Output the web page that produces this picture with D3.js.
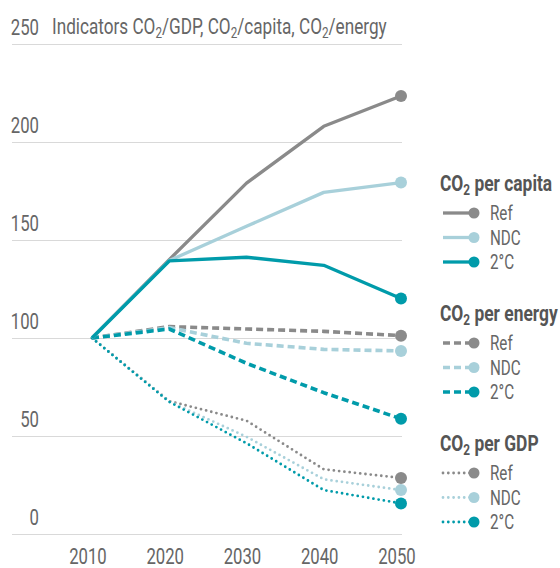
<!DOCTYPE html>
<html>
<head>
<meta charset="utf-8">
<script src="https://cdn.jsdelivr.net/npm/d3@7"></script>
<style>
  body { margin: 0; background: #fff; }
  svg text { font-family: Roboto, "Noto Sans", sans-serif; }
</style>
</head>
<body>
<div id="chart"></div>
<script>
// data
var years = [2010, 2020, 2030, 2040, 2050];
var yTicks = [0, 50, 100, 150, 200, 250];
var scenarios = ["Ref", "NDC", "2°C"];
var groups = ["per capita", "per energy", "per GDP"];

var capitaRef = [100, 140, 179, 208, 223.5];
var capitaNdc = [100, 139.5, 157, 174.3, 179.3];
var capita2c  = [100, 139.3, 141.2, 137.1, 120.2];
var energyRef = [100, 105.8, 104.6, 103.4, 101.2];
var energyNdc = [100, 105.3, 97.3, 94.2, 93.4];
var energy2c  = [100, 104.6, 87.1, 72.1, 58.8];
var gdpRef    = [100, 67.8, 57.8, 33, 28.6];
var gdpNdc    = [100, 67.6, 49.6, 27.9, 22.4];
var gdp2c     = [100, 67.4, 46.3, 22.4, 15.6];

var colors = { "Ref": "#8a8a8a", "NDC": "#a8d0da", "2°C": "#009baa" };
var dashes = { "per capita": null, "per energy": "7,4", "per GDP": "0,5.3" };

var series = [
  { group: "per GDP", name: "Ref", values: gdpRef },
  { group: "per GDP", name: "NDC", values: gdpNdc },
  { group: "per GDP", name: "2°C", values: gdp2c },
  { group: "per energy", name: "Ref", values: energyRef },
  { group: "per energy", name: "NDC", values: energyNdc },
  { group: "per energy", name: "2°C", values: energy2c },
  { group: "per capita", name: "Ref", values: capitaRef },
  { group: "per capita", name: "NDC", values: capitaNdc },
  { group: "per capita", name: "2°C", values: capita2c }
];

var svg = d3.select('#chart').append('svg')
  .attr('width', 560)
  .attr('height', 568);

var x = d3.scalePoint().domain(years).range([92, 401]);
var y = d3.scaleLinear().domain([0, 250]).range([534, 44]);

// the font in the picture is a condensed one, squeeze roboto sideways to look alike
function squeeze(sel, k) {
  sel.each(function() {
    var t = d3.select(this);
    var tx = +t.attr('x') || 0, ty = +t.attr('y') || 0;
    t.attr('x', 0).attr('y', 0)
      .attr('transform', 'translate(' + tx + ',' + ty + ') scale(' + k + ',1)');
  });
}

// y axis = gridlines + labels
var yAxis = svg.append('g')
  .attr('transform', 'translate(12,0)')
  .call(d3.axisRight(y).tickValues(yTicks).tickSize(390));
yAxis.select('.domain').remove();
yAxis.selectAll('.tick line').attr('stroke', '#d9d9d9').attr('stroke-width', 1);
yAxis.selectAll('.tick text')
  .attr('x', 27).attr('dy', -10).attr('text-anchor', 'end')
  .attr('fill', '#666').style('font-size', '22px')
  .style('font-family', 'Roboto, sans-serif');
squeeze(yAxis.selectAll('.tick text'), 0.76);

// text with CO2 subscripts, "_2" marks a subscript
function co2(t, parts, size) {
  var shift = 0;
  parts.forEach(function(p) {
    if (p === "_2") {
      t.append('tspan').text("2").style('font-size', (size * 0.68) + 'px').attr('dy', 4);
      shift = -4;
    } else {
      t.append('tspan').text(p).attr('dy', shift);
      shift = 0;
    }
  });
}
var title = svg.append('text')
  .attr('x', 52).attr('y', y(250) - 10)
  .attr('fill', '#666').style('font-size', '22px');
co2(title, ["Indicators CO", "_2", "/GDP, CO", "_2", "/capita, CO", "_2", "/energy"], 22);
squeeze(title, 0.78);

// x axis
var xAxis = svg.append('g')
  .attr('transform', 'translate(0,548)')
  .call(d3.axisBottom(x).tickSize(0).tickFormat(d3.format('d')));
xAxis.select('.domain').remove();
xAxis.selectAll('.tick text')
  .attr('dx', -6).attr('y', 0).attr('dy', 16)
  .attr('fill', '#666').style('font-size', '22px')
  .style('font-family', 'Roboto, sans-serif');
squeeze(xAxis.selectAll('.tick text'), 0.76);

var line = d3.line()
  .x(function(d, i) { return x(years[i]); })
  .y(function(d) { return y(d); });

series.forEach(function(s) {
  svg.append('path')
    .attr('d', line(s.values))
    .attr('fill', 'none')
    .attr('stroke', colors[s.name])
    .attr('stroke-width', s.group === "per GDP" ? 2.8 : (s.group === "per energy" ? 3.6 : 3.3))
    .attr('stroke-linecap', s.group === "per GDP" ? 'round' : 'butt')
    .attr('stroke-linejoin', 'round')
    .attr('stroke-dasharray', dashes[s.group]);
  svg.append('circle')
    .attr('cx', x(years[years.length - 1]))
    .attr('cy', y(s.values[s.values.length - 1]))
    .attr('r', 6)
    .attr('fill', colors[s.name]);
});

// legend
var legendTop = [191, 321, 451];
groups.forEach(function(g, gi) {
  var lg = svg.append('g').attr('transform', 'translate(440,' + legendTop[gi] + ')');
  var t = lg.append('text').attr('x', 0).attr('y', 0)
    .attr('fill', '#555').style('font-size', '22px').style('font-weight', 'bold');
  co2(t, ["CO", "_2", " " + g], 22);
  squeeze(t, 0.79);
  scenarios.forEach(function(sc, si) {
    var cy = 22 + si * 24.5;
    lg.append('line')
      .attr('x1', 3).attr('x2', 33).attr('y1', cy).attr('y2', cy)
      .attr('stroke', colors[sc])
      .attr('stroke-width', g === "per GDP" ? 2.8 : 3.3)
      .attr('stroke-linecap', g === "per GDP" ? 'round' : 'butt')
      .attr('stroke-dasharray', dashes[g]);
    lg.append('circle').attr('cx', 34).attr('cy', cy).attr('r', 5.5).attr('fill', colors[sc]);
    var lt = lg.append('text').attr('x', 50).attr('y', cy + 7)
      .attr('fill', '#666').style('font-size', '20px').text(sc);
    squeeze(lt, 0.76);
  });
});
</script>
</body>
</html>
